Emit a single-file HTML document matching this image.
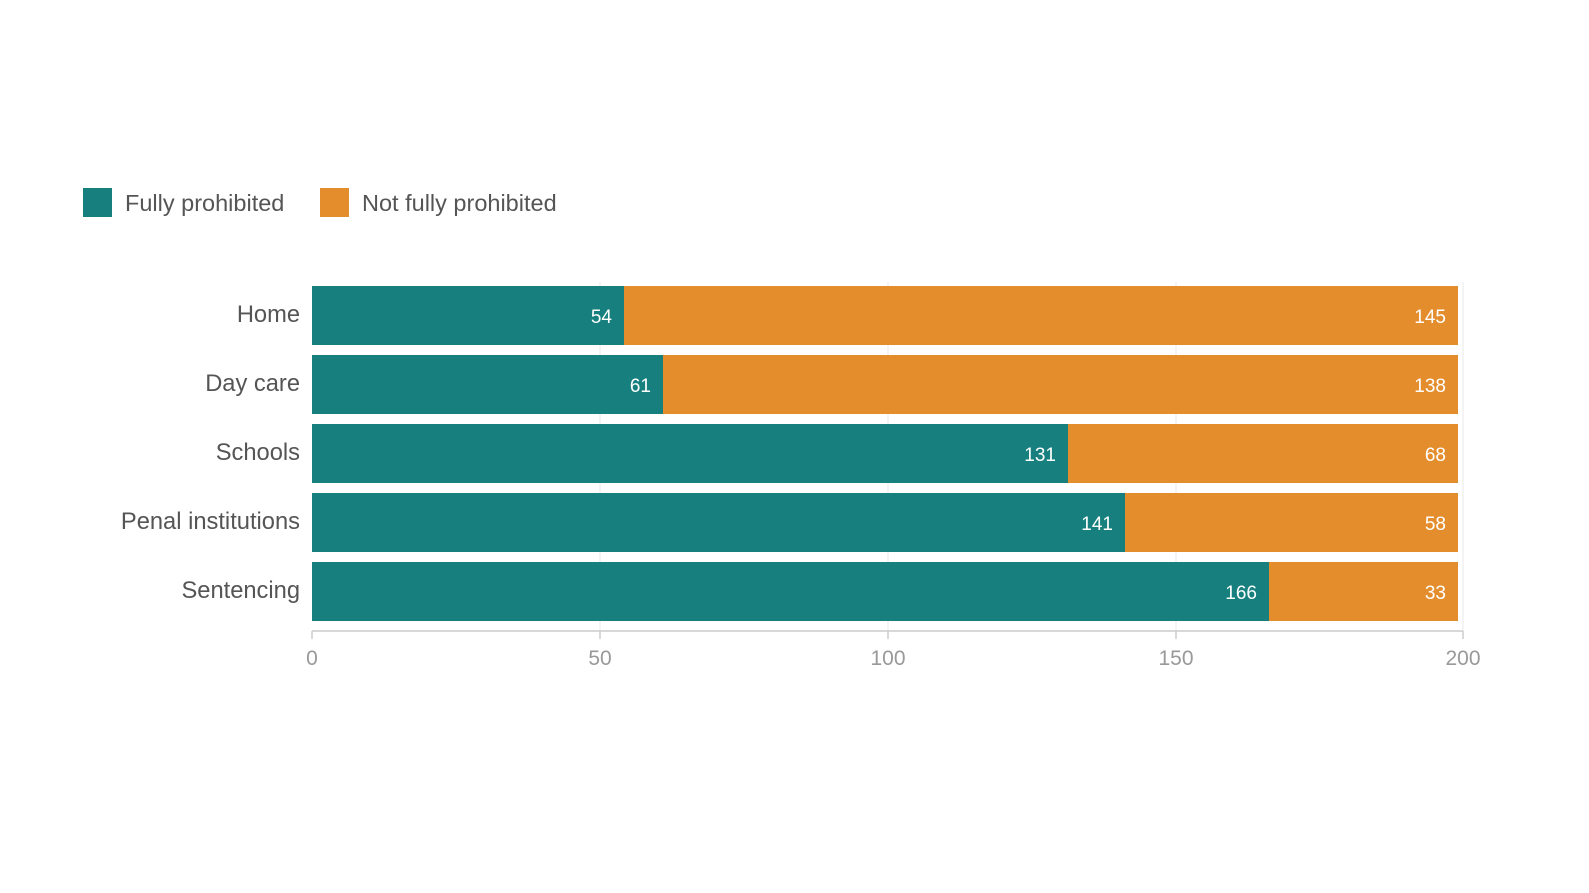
<!DOCTYPE html>
<html><head><meta charset="utf-8"><style>
html,body{margin:0;padding:0;background:#fff;}
svg{display:block;font-family:"Liberation Sans",Arial,sans-serif;}
</style></head><body>
<svg width="1589" height="893" viewBox="0 0 1589 893" xmlns="http://www.w3.org/2000/svg">
<rect width="1589" height="893" fill="#fff"/>
<rect x="83" y="188" width="29" height="29" fill="#17807e"/>
<text x="125" y="211" font-size="23.5" fill="#555">Fully prohibited</text>
<rect x="320" y="188" width="29" height="29" fill="#e48d2d"/>
<text x="362" y="211" font-size="23.5" fill="#555">Not fully prohibited</text>
<g stroke="#e8e8e8" stroke-width="1">
<line x1="600" y1="282" x2="600" y2="631"/>
<line x1="888" y1="282" x2="888" y2="631"/>
<line x1="1176" y1="282" x2="1176" y2="631"/>
<line x1="1463" y1="282" x2="1463" y2="631"/>
</g>
<g>
<rect x="312" y="286" width="312" height="59" fill="#17807e"/><rect x="624" y="286" width="834" height="59" fill="#e48d2d"/>
<rect x="312" y="355" width="351" height="59" fill="#17807e"/><rect x="663" y="355" width="795" height="59" fill="#e48d2d"/>
<rect x="312" y="424" width="756" height="59" fill="#17807e"/><rect x="1068" y="424" width="390" height="59" fill="#e48d2d"/>
<rect x="312" y="493" width="813" height="59" fill="#17807e"/><rect x="1125" y="493" width="333" height="59" fill="#e48d2d"/>
<rect x="312" y="562" width="957" height="59" fill="#17807e"/><rect x="1269" y="562" width="189" height="59" fill="#e48d2d"/>
</g>
<g font-size="19" fill="#fff" text-anchor="end">
<text x="612" y="323">54</text><text x="1446" y="323">145</text>
<text x="651" y="392">61</text><text x="1446" y="392">138</text>
<text x="1056" y="461">131</text><text x="1446" y="461">68</text>
<text x="1113" y="530">141</text><text x="1446" y="530">58</text>
<text x="1257" y="599">166</text><text x="1446" y="599">33</text>
</g>
<g font-size="23.7" fill="#555" text-anchor="end">
<text x="300" y="322">Home</text>
<text x="300" y="391">Day care</text>
<text x="300" y="460">Schools</text>
<text x="300" y="529">Penal institutions</text>
<text x="300" y="598">Sentencing</text>
</g>
<g stroke="#ccc" stroke-width="1.5">
<line x1="312" y1="631" x2="1463" y2="631"/>
<line x1="312" y1="631" x2="312" y2="639"/>
<line x1="600" y1="631" x2="600" y2="639"/>
<line x1="888" y1="631" x2="888" y2="639"/>
<line x1="1176" y1="631" x2="1176" y2="639"/>
<line x1="1463" y1="631" x2="1463" y2="639"/>
</g>
<g font-size="21" fill="#999" text-anchor="middle">
<text x="312" y="665">0</text>
<text x="600" y="665">50</text>
<text x="888" y="665">100</text>
<text x="1176" y="665">150</text>
<text x="1463" y="665">200</text>
</g>
</svg>
</body></html>
